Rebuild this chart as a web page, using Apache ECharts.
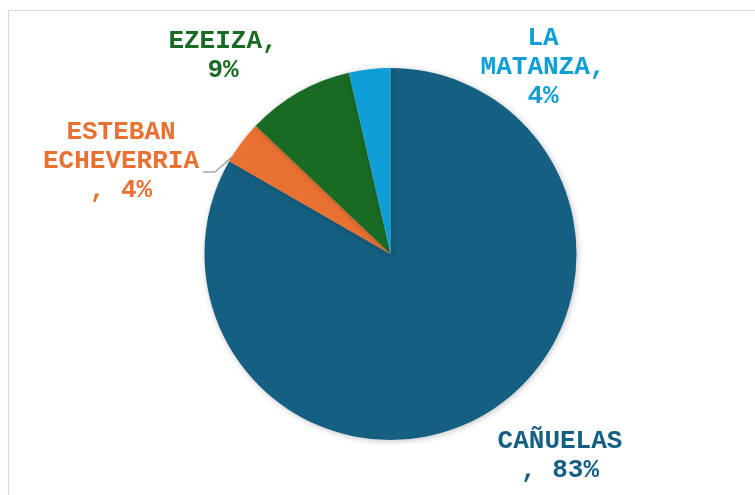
<!DOCTYPE html>
<html>
<head>
<meta charset="utf-8">
<script src="https://cdn.jsdelivr.net/npm/echarts@6/dist/echarts.min.js"></script>
<style>
html,body{margin:0;padding:0;background:#fff;}
#chart{width:755px;height:495px;}
</style>
</head>
<body>
<div id="chart"></div>
<script>
// Data
const categories = ['CAÑUELAS', 'ESTEBAN ECHEVERRIA', 'EZEIZA', 'LA MATANZA'];
const values = [83.3, 3.8, 9.3, 3.6];
const labelTexts = ['CAÑUELAS\n, 83%', 'ESTEBAN\nECHEVERRIA\n, 4%', 'EZEIZA,\n9%', 'LA\nMATANZA,\n4%'];
const colors = ['#156082', '#E97132', '#196B24', '#0F9ED5'];

// label anchor positions (layout only)
const labelPos = [[560, 456], [121, 161], [223, 56], [543, 67]];

const chart = echarts.init(document.getElementById('chart'), null, {renderer: 'canvas'});
chart.setOption({
  animation: false,
  backgroundColor: '#ffffff',
  graphic: [{
    type: 'rect',
    z: -10,
    shape: {x: 8.5, y: 10.5, width: 800, height: 600},
    style: {fill: 'none', stroke: '#d9d9d9', lineWidth: 1.2}
  }],
  series: [{
    type: 'pie',
    center: [390.5, 254],
    radius: [0, 186],
    startAngle: 90,
    clockwise: true,
    data: categories.map((c, i) => ({
      name: c,
      value: values[i],
      itemStyle: {color: colors[i]},
      label: {color: colors[i]},
      labelLine: {show: i === 1}
    })),
    itemStyle: {
      borderWidth: 0,
      shadowBlur: 6,
      shadowColor: 'rgba(0,0,0,0.25)',
      shadowOffsetX: 1,
      shadowOffsetY: 1
    },
    label: {
      show: true,
      position: 'outside',
      formatter: p => labelTexts[p.dataIndex],
      fontFamily: "'Courier New', 'Liberation Mono', monospace",
      fontWeight: 'bold',
      fontSize: 26,
      lineHeight: 29,
      align: 'center',
      overflow: 'none',
      width: 300
    },
    labelLine: {
      show: true,
      lineStyle: {color: '#a6a6a6', width: 1.5}
    },
    labelLayout: function (params) {
      const i = params.dataIndex;
      const res = {
        x: labelPos[i][0],
        y: labelPos[i][1],
        align: 'center',
        verticalAlign: 'middle'
      };
      if (i === 1) {
        res.labelLinePoints = [[203, 172], [215, 172], [232, 157]];
      }
      return res;
    },
    emphasis: {disabled: true}
  }]
});
</script>
</body>
</html>
